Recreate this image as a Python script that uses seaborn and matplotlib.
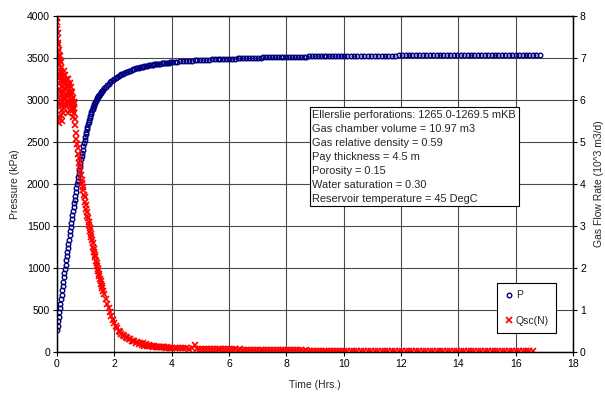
import matplotlib
matplotlib.use("Agg")
import matplotlib.pyplot as plt
import seaborn as sns

# time grids (hrs) used by the logger
t_fast = [0.00, 0.02, 0.04, 0.06, 0.08, 0.10, 0.12, 0.14, 0.16, 0.18,
          0.20, 0.22, 0.24, 0.26, 0.28, 0.30, 0.32, 0.34, 0.36, 0.38,
          0.40, 0.42, 0.44, 0.46, 0.48, 0.50, 0.52, 0.54, 0.56, 0.58,
          0.60, 0.62, 0.64, 0.66, 0.68, 0.70, 0.72, 0.74, 0.76, 0.78,
          0.80, 0.82, 0.84, 0.86, 0.88, 0.90, 0.92, 0.94, 0.96, 0.98,
          1.00, 1.02, 1.04, 1.06, 1.08, 1.10, 1.12, 1.14, 1.16, 1.18,
          1.20, 1.22, 1.24, 1.26, 1.28, 1.30, 1.32, 1.34, 1.36, 1.38,
          1.40, 1.42, 1.44, 1.46, 1.48, 1.50, 1.52, 1.54, 1.56, 1.58,
          1.60]
t_mid = [1.65, 1.70, 1.75, 1.80, 1.85, 1.90, 1.95, 2.00, 2.05, 2.10,
         2.15, 2.20, 2.25, 2.30, 2.35, 2.40, 2.45, 2.50, 2.55, 2.60,
         2.65, 2.70, 2.75, 2.80, 2.85, 2.90, 2.95, 3.00, 3.05, 3.10,
         3.15, 3.20, 3.25, 3.30, 3.35, 3.40, 3.45, 3.50, 3.55, 3.60,
         3.65, 3.70, 3.75, 3.80, 3.85, 3.90, 3.95, 4.00]
t_slow = [4.1, 4.2, 4.3, 4.4, 4.5, 4.6, 4.7, 4.8, 4.9, 5.0,
          5.1, 5.2, 5.3, 5.4, 5.5, 5.6, 5.7, 5.8, 5.9, 6.0,
          6.1, 6.2, 6.3, 6.4, 6.5, 6.6, 6.7, 6.8, 6.9, 7.0,
          7.1, 7.2, 7.3, 7.4, 7.5, 7.6, 7.7, 7.8, 7.9, 8.0,
          8.1, 8.2, 8.3, 8.4, 8.5, 8.6, 8.7, 8.8, 8.9, 9.0,
          9.1, 9.2, 9.3, 9.4, 9.5, 9.6, 9.7, 9.8, 9.9, 10.0]
t_tail = [10.12, 10.24, 10.36, 10.48, 10.60, 10.72, 10.84, 10.96, 11.08, 11.20,
          11.32, 11.44, 11.56, 11.68, 11.80, 11.92, 12.04, 12.16, 12.28, 12.40,
          12.52, 12.64, 12.76, 12.88, 13.00, 13.12, 13.24, 13.36, 13.48, 13.60,
          13.72, 13.84, 13.96, 14.08, 14.20, 14.32, 14.44, 14.56, 14.68, 14.80,
          14.92, 15.04, 15.16, 15.28, 15.40, 15.52, 15.64, 15.76, 15.88, 16.00,
          16.12, 16.24, 16.36, 16.48, 16.60, 16.72, 16.84]

# pressure (kPa)
p_fast = [260, 313, 366, 419, 472, 525, 577, 629, 681, 733,
          785, 836, 887, 938, 989, 1040, 1090, 1140, 1190, 1240,
          1290, 1339, 1388, 1437, 1486, 1535, 1582, 1629, 1676, 1723,
          1770, 1815, 1860, 1905, 1950, 1995, 2038, 2081, 2124, 2167,
          2210, 2251, 2292, 2332, 2371, 2410, 2447, 2484, 2520, 2555,
          2590, 2621, 2652, 2682, 2711, 2740, 2765, 2789, 2813, 2837,
          2860, 2879, 2898, 2916, 2933, 2950, 2965, 2979, 2993, 3007,
          3020, 3031, 3042, 3053, 3064, 3075, 3084, 3093, 3102, 3111,
          3120]
p_mid = [3140, 3160, 3178, 3195, 3210, 3225, 3238, 3250, 3262, 3273,
         3284, 3295, 3304, 3313, 3322, 3330, 3337, 3344, 3351, 3358,
         3364, 3369, 3375, 3380, 3385, 3389, 3394, 3398, 3401, 3405,
         3408, 3411, 3414, 3418, 3421, 3424, 3427, 3430, 3432, 3434,
         3436, 3438, 3440, 3442, 3444, 3446, 3448, 3450]
p_slow = [3453, 3456, 3459, 3462, 3465, 3467, 3469, 3472, 3474, 3476,
          3478, 3480, 3481, 3483, 3484, 3486, 3487, 3489, 3490, 3492,
          3493, 3494, 3495, 3497, 3498, 3499, 3500, 3501, 3503, 3504,
          3505, 3506, 3507, 3507, 3508, 3509, 3510, 3511, 3512, 3513,
          3514, 3514, 3515, 3515, 3516, 3517, 3517, 3518, 3518, 3519,
          3520, 3520, 3521, 3521, 3522, 3522, 3523, 3523, 3524, 3524]
p_tail = [3525, 3525, 3525, 3526, 3526, 3526, 3527, 3527, 3527, 3528,
          3528, 3528, 3529, 3529, 3529, 3530, 3530, 3530, 3530, 3531,
          3531, 3531, 3531, 3532, 3532, 3532, 3532, 3533, 3533, 3533,
          3533, 3533, 3534, 3534, 3534, 3534, 3534, 3535, 3535, 3535,
          3535, 3535, 3535, 3536, 3536, 3536, 3536, 3536, 3536, 3536,
          3537, 3537, 3537, 3537, 3537, 3537, 3537]

# gas flow rate Qsc(N), 10^3 m3/d
t_burst = [0.005, 0.01, 0.015, 0.025, 0.03, 0.035, 0.045, 0.05, 0.055, 0.065,
           0.07, 0.075, 0.085, 0.09, 0.095, 0.105, 0.11, 0.115, 0.125, 0.13,
           0.135, 0.145, 0.15, 0.155, 0.165, 0.17, 0.175, 0.185, 0.19, 0.205,
           0.21, 0.23, 0.235, 0.25, 0.255, 0.27, 0.29, 0.31, 0.33, 0.35,
           0.37, 0.39, 0.41, 0.43, 0.45, 0.47, 0.49, 0.51, 0.53, 0.55,
           0.57, 0.59, 0.61]
q_burst = [7.70, 7.85, 7.45, 7.60, 7.15, 6.90, 7.35, 6.60, 5.60, 7.20,
           6.25, 5.45, 6.85, 5.90, 6.55, 5.55, 7.05, 6.20, 6.75, 5.65,
           6.45, 6.00, 6.90, 5.85, 6.55, 5.50, 6.15, 6.65, 5.95, 6.40,
           5.70, 6.70, 6.00, 5.80, 6.45, 6.25, 6.60, 5.85, 6.05, 6.35,
           5.70, 6.50, 5.90, 6.15, 6.40, 5.75, 6.30, 5.95, 6.20, 5.60,
           6.05, 5.80, 5.95]
q_fast = [7.95, 7.30, 6.85, 7.05, 6.40, 6.95, 6.10, 6.70, 6.30, 5.75,
          6.55, 6.20, 6.05, 6.60, 5.90, 6.40, 6.15, 6.50, 5.95, 6.30,
          6.10, 6.35, 5.85, 6.20, 6.00, 6.15, 5.80, 6.00, 5.75, 5.90,
          5.70, 5.55, 5.40, 5.22, 5.08, 4.95, 4.85, 4.72, 4.62, 4.50,
          4.42, 4.30, 4.22, 4.10, 4.03, 3.92, 3.86, 3.74, 3.68, 3.56,
          3.50, 3.40, 3.34, 3.24, 3.18, 3.10, 3.02, 2.96, 2.87, 2.82,
          2.73, 2.66, 2.60, 2.51, 2.46, 2.38, 2.31, 2.26, 2.17, 2.12,
          2.05, 1.98, 1.93, 1.85, 1.81, 1.74, 1.68, 1.63, 1.56, 1.52,
          1.46]
q_mid = [1.37, 1.26, 1.15, 1.05, 0.95, 0.86, 0.76, 0.69, 0.62, 0.57,
         0.51, 0.47, 0.44, 0.40, 0.38, 0.35, 0.33, 0.31, 0.30, 0.27,
         0.26, 0.25, 0.22, 0.23, 0.20, 0.22, 0.17, 0.21, 0.15, 0.19,
         0.15, 0.16, 0.14, 0.15, 0.13, 0.14, 0.13, 0.12, 0.13, 0.12,
         0.11, 0.12, 0.11, 0.10, 0.11, 0.10, 0.10, 0.10]
q_slow = [0.10, 0.09, 0.10, 0.09, 0.09, 0.08, 0.09, 0.17, 0.08, 0.08,
          0.08, 0.07, 0.08, 0.07, 0.07, 0.07, 0.06, 0.07, 0.06, 0.06,
          0.06, 0.06, 0.05, 0.06, 0.05, 0.05, 0.05, 0.05, 0.05, 0.05,
          0.05, 0.04, 0.05, 0.04, 0.04, 0.04, 0.04, 0.04, 0.04, 0.04,
          0.04, 0.04, 0.04, 0.04, 0.04, 0.03, 0.04, 0.03, 0.03, 0.03,
          0.03, 0.03, 0.03, 0.03, 0.03, 0.03, 0.03, 0.03, 0.03, 0.03]
q_tail = [0.03, 0.03, 0.03, 0.03, 0.03, 0.03, 0.03, 0.03, 0.03, 0.03,
          0.03, 0.03, 0.03, 0.03, 0.03, 0.03, 0.02, 0.03, 0.02, 0.02,
          0.02, 0.02, 0.02, 0.02, 0.02, 0.02, 0.02, 0.02, 0.02, 0.02,
          0.02, 0.02, 0.02, 0.02, 0.02, 0.02, 0.02, 0.02, 0.02, 0.02,
          0.02, 0.02, 0.02, 0.02, 0.02, 0.02, 0.02, 0.02, 0.02, 0.02,
          0.02, 0.02, 0.02, 0.02, 0.02]

info_lines = ["Ellerslie perforations: 1265.0-1269.5 mKB",
              "Gas chamber volume = 10.97 m3",
              "Gas relative density = 0.59",
              "Pay thickness = 4.5 m",
              "Porosity = 0.15",
              "Water saturation = 0.30",
              "Reservoir temperature = 45 DegC"]

time_p = t_fast + t_mid + t_slow + t_tail
pressure = p_fast + p_mid + p_slow + p_tail
time_q = t_burst + t_fast + t_mid + t_slow + t_tail[:len(q_tail)]
qsc = q_burst + q_fast + q_mid + q_slow + q_tail

NAVY = "#000080"
RED = "#ff0000"

sns.set_style("white")
plt.rcParams["font.family"] = ["Liberation Sans", "DejaVu Sans"]
plt.rcParams["font.size"] = 7.5

fig = plt.figure(figsize=(6.05, 3.94), dpi=100)
ax = fig.add_axes([0.0942, 0.1066, 0.8529, 0.8528])
ax2 = ax.twinx()

sns.lineplot(x=time_p, y=pressure, ax=ax, estimator=None, legend=False,
             linestyle="", marker="o", markersize=3.3, markerfacecolor="none",
             markeredgecolor=NAVY, markeredgewidth=1.0, color=NAVY, label="P")
sns.lineplot(x=time_q, y=qsc, ax=ax2, estimator=None, legend=False,
             linestyle="", marker="x", markersize=4.0, markeredgewidth=1.2,
             markeredgecolor=RED, color=RED, label="Qsc(N)")

ax.set_xlim(0, 18)
ax.set_ylim(0, 4000)
ax2.set_ylim(0, 8)
ax.set_xticks(range(0, 19, 2))
ax.set_yticks(range(0, 4001, 500))
ax2.set_yticks(range(0, 9))

ax.grid(True, color="#4a4a4a", linewidth=0.8)
ax.set_axisbelow(True)
for a in (ax, ax2):
    for s in a.spines.values():
        s.set_color("black")
        s.set_linewidth(0.9)
    a.tick_params(direction="out", length=3, width=0.8, pad=2, labelsize=7.5,
                  colors="black")
ax.tick_params(left=True, bottom=True)
ax2.tick_params(right=True)

ax.set_xlabel("Time (Hrs.)", fontsize=7.5, labelpad=8)
ax.set_ylabel("Pressure (kPa)", fontsize=7.5, labelpad=5)
ax2.set_ylabel("Gas Flow Rate (10^3 m3/d)", fontsize=7.5, labelpad=6)

ax2.text(0.495, 0.72, "\n".join(info_lines), transform=ax2.transAxes,
         ha="left", va="top", fontsize=7.9, linespacing=1.49,
         bbox=dict(boxstyle="square,pad=0.25", facecolor="white",
                   edgecolor="black", linewidth=0.8))

h1, l1 = ax.get_legend_handles_labels()
h2, l2 = ax2.get_legend_handles_labels()
leg = ax2.legend(h1 + h2, l1 + l2, loc="upper left", bbox_to_anchor=(0.853, 0.205),
                 frameon=True, fancybox=False, framealpha=1, edgecolor="black",
                 fontsize=7.5, labelspacing=1.45, handlelength=0.8,
                 handletextpad=0.3, borderpad=0.7, borderaxespad=0)
leg.get_frame().set_linewidth(0.8)

fig.savefig("out.png", dpi=100)
